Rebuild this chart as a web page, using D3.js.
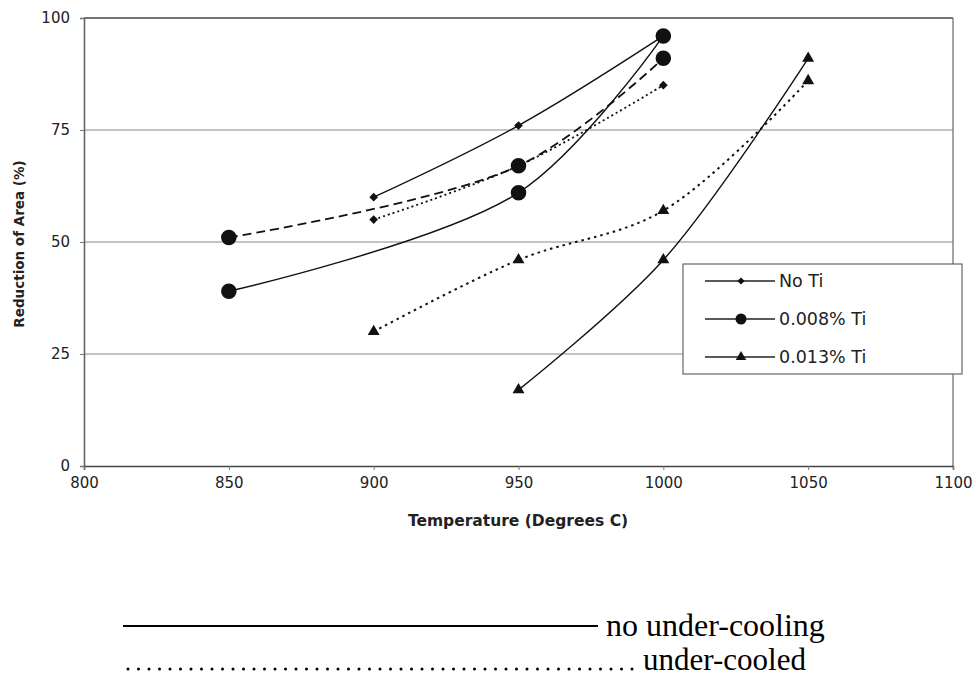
<!DOCTYPE html>
<html><head><meta charset="utf-8">
<script src="https://cdn.jsdelivr.net/npm/d3@7"></script>
<style>html,body{margin:0;padding:0;background:#fff}svg{display:block}</style>
</head><body>
<svg id="c" width="976" height="677"></svg>
<script>
// ---- data ----
const temps = [800, 850, 900, 950, 1000, 1050, 1100];
const yTicks = [0, 25, 50, 75, 100];
const noTiSolidX = [900, 950, 1000];
const noTiSolidY = [60, 76, 96];
const noTiDotX = [900, 950, 1000];
const noTiDotY = [55, 67, 85];
const ti008SolidX = [850, 950, 1000];
const ti008SolidY = [39, 61, 96];
const ti008DashX = [850, 950, 1000];
const ti008DashY = [51, 67, 91];
const ti013SolidX = [950, 1000, 1050];
const ti013SolidY = [17, 46, 91];
const ti013DotX = [900, 950, 1000, 1050];
const ti013DotY = [30, 46, 57, 86];
const legendLabels = ["No Ti", "0.008% Ti", "0.013% Ti"];
const xTitle = "Temperature (Degrees C)";
const yTitle = "Reduction of Area (%)";
const noteLabels = ["no under-cooling", "under-cooled"];

const SANS = "DejaVu Sans, Arial, sans-serif";
const SERIF = "Liberation Serif, Times New Roman, serif";
const svg = d3.select("#c");
const x = d3.scaleLinear().domain([800, 1100]).range([84, 953]);
const y = d3.scaleLinear().domain([0, 100]).range([466, 18]);

// gridlines
svg.append("g").selectAll("line").data(yTicks.filter(d => d > 0)).join("line")
  .attr("x1", x(800)).attr("x2", x(1100))
  .attr("y1", d => y(d)).attr("y2", d => y(d))
  .attr("stroke", d => d === 100 ? "#444" : "#8a8a8a").attr("stroke-width", d => d === 100 ? 1.4 : 1.1);
// right border
svg.append("line").attr("x1", x(1100)).attr("x2", x(1100)).attr("y1", y(100)).attr("y2", y(0))
  .attr("stroke", "#666").attr("stroke-width", 1.2);

// axes
const xAxis = d3.axisBottom(x).tickValues(temps).tickSize(4).tickPadding(7).tickFormat(d3.format("d"));
const gx = svg.append("g").attr("transform", `translate(0,${y(0)})`).call(xAxis);
gx.select(".domain").attr("stroke", "#444").attr("stroke-width", 1.6);
gx.selectAll(".tick line").attr("stroke", "#777");
gx.selectAll("text").attr("font-family", SANS).attr("font-size", 15).attr("fill", "#222");

const yAxis = d3.axisLeft(y).tickValues(yTicks).tickSize(4).tickPadding(10);
const gy = svg.append("g").attr("transform", `translate(${x(800)},0)`).call(yAxis);
gy.select(".domain").attr("stroke", "#666").attr("stroke-width", 1.6);
gy.selectAll(".tick line").attr("stroke", "#777");
gy.selectAll("text").attr("font-family", SANS).attr("font-size", 15).attr("fill", "#222");

svg.append("text").attr("x", 518).attr("y", 526)
  .attr("text-anchor", "middle").attr("font-family", SANS)
  .attr("font-weight", "bold").attr("font-size", 15.5).attr("fill", "#222").text(xTitle);
svg.append("text").attr("transform", `translate(24,${y(50) + 2}) rotate(-90)`)
  .attr("text-anchor", "middle").attr("font-family", SANS)
  .attr("font-weight", "bold").attr("font-size", 13.5).attr("fill", "#222").text(yTitle);

// series
const series = [
  {xs: ti013DotX, ys: ti013DotY, dash: "2.5,4", w: 2, m: "tri"},
  {xs: ti013SolidX, ys: ti013SolidY, dash: null, w: 1.4, m: "tri"},
  {xs: noTiDotX, ys: noTiDotY, dash: "2,3", w: 1.8, m: "dia"},
  {xs: ti008DashX, ys: ti008DashY, dash: "9,5", w: 1.8, m: "circ"},
  {xs: noTiSolidX, ys: noTiSolidY, dash: null, w: 1.4, m: "dia"},
  {xs: ti008SolidX, ys: ti008SolidY, dash: null, w: 1.4, m: "circ"},
];
const line = d3.line().x(d => x(d[0])).y(d => y(d[1])).curve(d3.curveCatmullRom.alpha(0.5));
const symFor = {
  dia: d3.symbol().type(d3.symbolSquare).size(38),
  circ: d3.symbol().type(d3.symbolCircle).size(190),
  tri: d3.symbol().type(d3.symbolTriangle).size(62)
};
const rotFor = {dia: 45, circ: 0, tri: 0};
series.forEach(s => {
  const pts = s.xs.map((v, i) => [v, s.ys[i]]);
  svg.append("path").attr("d", line(pts)).attr("fill", "none").attr("stroke", "#111")
    .attr("stroke-width", s.w).attr("stroke-dasharray", s.dash);
});
series.forEach(s => {
  const pts = s.xs.map((v, i) => [v, s.ys[i]]);
  svg.append("g").selectAll("path").data(pts).join("path")
    .attr("d", symFor[s.m]).attr("transform", d => `translate(${x(d[0])},${y(d[1])}) rotate(${rotFor[s.m]})`)
    .attr("fill", "#111");
});

// legend
const legSym = {
  dia: d3.symbol().type(d3.symbolSquare).size(26),
  circ: d3.symbol().type(d3.symbolCircle).size(95),
  tri: d3.symbol().type(d3.symbolTriangle).size(48)
};
const lg = svg.append("g").attr("transform", "translate(683,264)");
lg.append("rect").attr("width", 279).attr("height", 110).attr("fill", "#fff").attr("stroke", "#666").attr("stroke-width", 1.2);
const lm = ["dia", "circ", "tri"];
legendLabels.forEach((t, i) => {
  const yy = 17 + i * 38;
  lg.append("line").attr("x1", 22).attr("x2", 92).attr("y1", yy).attr("y2", yy).attr("stroke", "#222").attr("stroke-width", 1.3);
  lg.append("path").attr("d", legSym[lm[i]]).attr("transform", `translate(58,${yy}) rotate(${rotFor[lm[i]]})`).attr("fill", "#111");
  lg.append("text").attr("x", 96).attr("y", yy + 6).attr("font-family", SANS)
    .attr("font-size", 17.5).attr("fill", "#222").text(t);
});

// notes
svg.append("line").attr("x1", 123).attr("x2", 598).attr("y1", 626).attr("y2", 626).attr("stroke", "#000").attr("stroke-width", 2);
svg.append("text").attr("x", 606).attr("y", 636).attr("font-family", SERIF)
  .attr("font-size", 32).attr("fill", "#000").text(noteLabels[0]);
svg.append("line").attr("x1", 128).attr("x2", 634).attr("y1", 669).attr("y2", 669).attr("stroke", "#000")
  .attr("stroke-width", 3).attr("stroke-linecap", "round").attr("stroke-dasharray", "0,10.5");
svg.append("text").attr("x", 643).attr("y", 670).attr("font-family", SERIF)
  .attr("font-size", 31).attr("fill", "#000").text(noteLabels[1]);
</script>
</body></html>
